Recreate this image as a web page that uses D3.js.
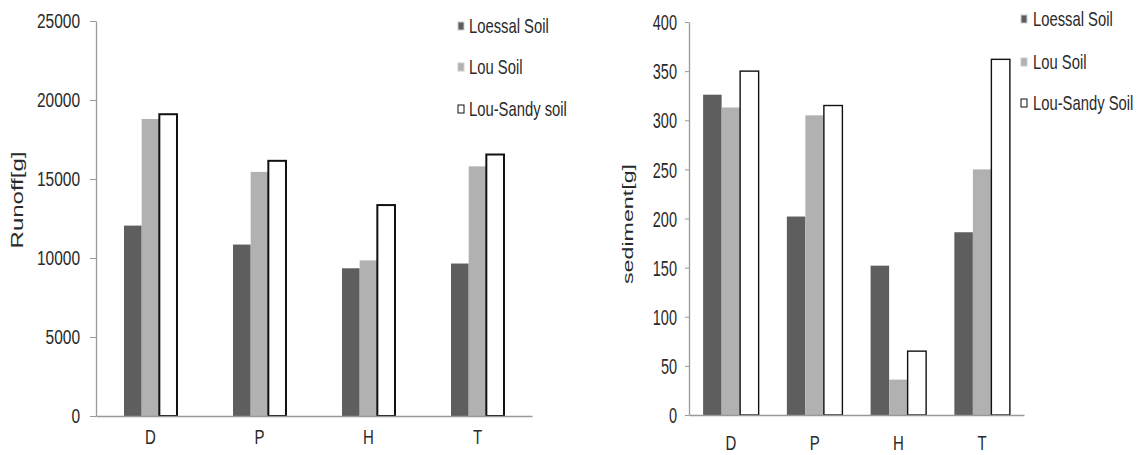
<!DOCTYPE html>
<html>
<head>
<meta charset="utf-8">
<script src="https://cdn.jsdelivr.net/npm/d3@7"></script>
<style>
  html, body { margin: 0; padding: 0; background: #fff; }
  svg text { font-family: "Liberation Sans", Arial, sans-serif; fill: #2a2a2a; }
</style>
</head>
<body>
<svg id="chart" width="1137" height="455"></svg>
<script>
/* two grouped bar charts: runoff (left) and sediment (right) */

var CATEGORIES = ['D', 'P', 'H', 'T'];

var RUNOFF_SERIES = ['Loessal Soil', 'Lou Soil', 'Lou-Sandy soil'];
var RUNOFF_LOESSAL = [12050, 10850, 9350, 9650];
var RUNOFF_LOU = [18800, 15450, 9850, 15800];
var RUNOFF_SANDY = [19100, 16150, 13350, 16550];
var RUNOFF_TICKS = [0, 5000, 10000, 15000, 20000, 25000];

var SED_SERIES = ['Loessal Soil', 'Lou Soil', 'Lou-Sandy Soil'];
var SED_LOESSAL = [326, 202, 152, 186];
var SED_LOU = [313, 305, 36, 250];
var SED_SANDY = [350, 315, 65, 362];
var SED_TICKS = [0, 50, 100, 150, 200, 250, 300, 350, 400];

var FILLS = ['#5e5e5e', '#b1b1b1', '#ffffff'];

var svg = d3.select('#chart');

function drawPanel(opt) {
    var g = svg.append('g');
    var series = [opt.a, opt.b, opt.c];

    var x = d3.scaleBand().domain(CATEGORIES).range([opt.x0, opt.x1])
        .paddingInner(opt.pad).paddingOuter(opt.pad / 2);
    var xs = d3.scaleBand().domain([0, 1, 2]).range([0, x.bandwidth()]);
    var y = d3.scaleLinear().domain([0, opt.max]).range([opt.y0, opt.y1]);

    // bars
    CATEGORIES.forEach(function(cat, ci) {
        var grp = g.append('g').attr('transform', 'translate(' + x(cat) + ',0)');
        grp.selectAll('rect').data(series.map(function(s, si) { return { si: si, v: s[ci] }; }))
            .enter().append('rect')
            .attr('x', function(d) { return xs(d.si); })
            .attr('width', xs.bandwidth())
            .attr('y', function(d) { return y(d.v); })
            .attr('height', function(d) { return y(0) - y(d.v); })
            .attr('fill', function(d) { return FILLS[d.si]; })
            .attr('stroke', function(d) { return d.si === 2 ? '#111' : 'none'; })
            .attr('stroke-width', opt.stroke);
    });

    // y axis
    var yAxis = g.append('g').attr('transform', 'translate(' + opt.x0 + ',0)')
        .call(d3.axisLeft(y).tickValues(opt.ticks).tickSize(opt.tickLen).tickSizeOuter(0).tickPadding(opt.tickPad).tickFormat(d3.format('d')));
    yAxis.select('.domain').attr('stroke', '#999').attr('stroke-width', 1.3);
    yAxis.selectAll('.tick line').attr('stroke', '#999');
    yAxis.selectAll('text')
        .attr('font-size', opt.tickFont + 'px')
        .attr('font-family', null)
        .attr('dy', null)
        .attr('dominant-baseline', 'central')
        .attr('transform', 'scale(1,' + opt.stretch + ')');

    // x axis
    var xAxis = g.append('g').attr('transform', 'translate(0,' + opt.y0 + ')')
        .call(d3.axisBottom(x).tickSize(0).tickSizeOuter(0));
    xAxis.select('.domain').attr('stroke', '#999').attr('stroke-width', 1.3);
    xAxis.selectAll('text')
        .attr('font-size', '15px')
        .attr('font-family', null)
        .attr('y', 0).attr('dy', null)
        .attr('dominant-baseline', 'central')
        .attr('transform', 'translate(0,' + opt.catOff + ') scale(1,1.3)');

    // axis title
    g.append('text')
        .attr('transform', 'translate(' + opt.titleX + ',' + opt.titleY + ') rotate(-90) scale(1.5,1)')
        .attr('text-anchor', 'middle')
        .attr('dominant-baseline', 'central')
        .attr('font-size', opt.titleFont + 'px')
        .text(opt.title);

    // legend
    var leg = g.append('g').selectAll('g').data(opt.names).enter().append('g')
        .attr('transform', function(d, i) { return 'translate(' + opt.legX + ',' + opt.legY[i] + ')'; });
    leg.append('rect')
        .attr('x', 0).attr('y', -4).attr('width', 6).attr('height', 8)
        .attr('fill', function(d, i) { return FILLS[i]; })
        .attr('stroke', function(d, i) { return i === 2 ? '#111' : '#ccc'; })
        .attr('stroke-width', 1);
    leg.append('text')
        .attr('x', opt.legTextDx)
        .attr('dominant-baseline', 'central')
        .attr('font-size', '14.8px')
        .attr('transform', 'scale(1,1.38)')
        .text(function(d) { return d; });
}

drawPanel({
    a: RUNOFF_LOESSAL, b: RUNOFF_LOU, c: RUNOFF_SANDY,
    names: RUNOFF_SERIES, ticks: RUNOFF_TICKS, max: 25000,
    x0: 96, x1: 532, y0: 416, y1: 21, pad: 0.514, stroke: 2,
    tickLen: 6, tickPad: 10, tickFont: 15.5, stretch: 1.32,
    catOff: 21, title: 'Runoff[g]', titleFont: 16, titleX: 18, titleY: 200,
    legX: 458, legY: [26, 67, 109], legTextDx: 11
});

drawPanel({
    a: SED_LOESSAL, b: SED_LOU, c: SED_SANDY,
    names: SED_SERIES, ticks: SED_TICKS, max: 400,
    x0: 689, x1: 1024, y0: 415, y1: 22, pad: 0.337, stroke: 1.4,
    tickLen: 4, tickPad: 8, tickFont: 14.5, stretch: 1.5,
    catOff: 28, title: 'sediment[g]', titleFont: 15.5, titleX: 628, titleY: 224,
    legX: 1021, legY: [19, 62, 103], legTextDx: 12
});
</script>
</body>
</html>
